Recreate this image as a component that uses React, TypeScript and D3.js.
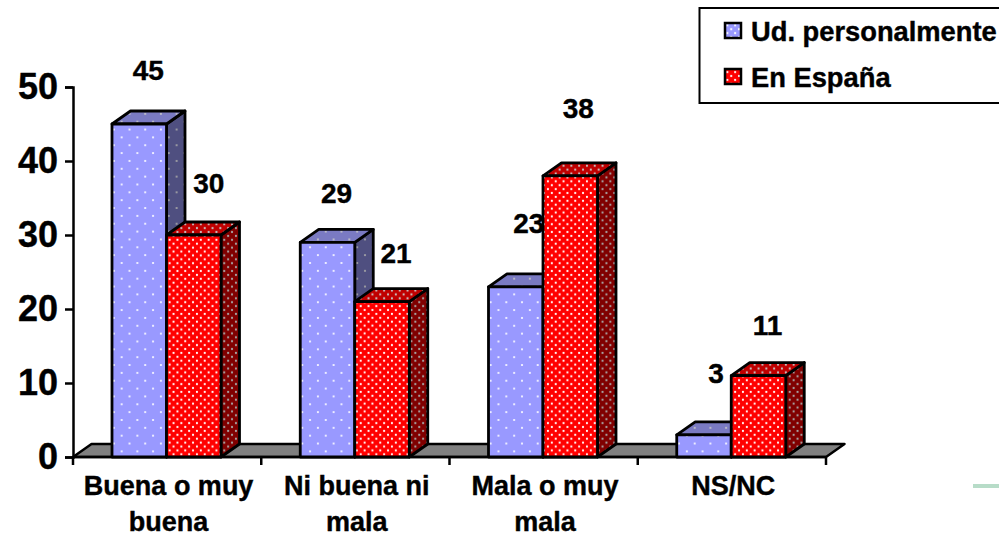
import React, { useEffect, useRef } from "react";
import * as d3 from "d3";

const categories = [["Buena o muy", "buena"], ["Ni buena ni", "mala"], ["Mala o muy", "mala"], ["NS/NC"]];
const seriesNames = ["Ud. personalmente", "En España"];
const personal = [45, 29, 23, 3];
const espana = [30, 21, 38, 11];
const yTicks = [0, 10, 20, 30, 40, 50];
// hand nudges for the data labels, they sit off the bars in the original
const labelNudgeX = [[9, 15], [9, 14], [13, 8], [12, 9]];
const labelNudgeY = [[44, 42], [39, 39], [54, 58], [52, 41]];

const FONT = "'Liberation Sans', Arial, sans-serif";
const DX = 18.5;
const DY = 13;
const colors = [
  { front: "#9999ff", side: "#4f4f80", top: "#7a7ac2", period: 15.7 },
  { front: "#ff0000", side: "#800000", top: "#c00000", period: 7.8 },
];

export default function App() {
  const ref = useRef<SVGSVGElement>(null);

  useEffect(() => {
    const svg = d3.select(ref.current);
    svg.selectAll("*").remove();

    const y = d3.scaleLinear().domain([0, 50]).range([457, 87]);
    const x = d3.scaleBand().domain(d3.range(4).map(String)).range([73, 826]);
    const barW = 54.5;
    const barStart = (i: number, s: number) => x(String(i))! + 39 + s * barW;

    // the original text is a bit heavier than plain bold
    const heavy = (sel: any, size: number) =>
      sel
        .attr("font-family", FONT)
        .attr("font-weight", "bold")
        .attr("font-size", size)
        .attr("fill", "#000")
        .attr("stroke", "#000")
        .attr("stroke-width", 0.4);

    // dotted fills
    const defs = svg.append("defs");
    const addPattern = (id: string, fill: string, dot: string, period: number) => {
      const p = defs
        .append("pattern")
        .attr("id", id)
        .attr("width", period)
        .attr("height", period)
        .attr("patternUnits", "userSpaceOnUse");
      p.append("rect").attr("width", period).attr("height", period).attr("fill", fill);
      p.append("circle").attr("cx", period / 4).attr("cy", period / 4).attr("r", 1.1).attr("fill", dot);
      p.append("circle").attr("cx", (3 * period) / 4).attr("cy", (3 * period) / 4).attr("r", 1.1).attr("fill", dot);
    };
    colors.forEach((c, s) => {
      addPattern(`front${s}`, c.front, "#ffffff", c.period);
      addPattern(`side${s}`, c.side, "#a8a8a8", c.period);
      addPattern(`top${s}`, c.top, "#c8c8c8", c.period);
      addPattern(`swatch${s}`, c.front, "#ffffff", 7.8);
    });

    // floor
    svg
      .append("path")
      .attr("d", `M73,457L${73 + DX},${457 - DY}H${826 + DX}L826,457Z`)
      .attr("fill", "#808080")
      .attr("stroke", "#000")
      .attr("stroke-width", 2.5)
      .attr("stroke-linejoin", "round");

    // y axis
    const yAxis = svg
      .append("g")
      .attr("transform", "translate(73,0)")
      .call(d3.axisLeft(y).tickValues(yTicks).tickSize(8).tickPadding(7));
    yAxis.selectAll("path,line").attr("stroke", "#000").attr("stroke-width", 2.5);
    heavy(yAxis.selectAll("text"), 36);

    // x axis ticks
    const xAxis = svg.append("g").attr("transform", "translate(0,457)");
    xAxis.append("line").attr("x1", 73).attr("x2", 826).attr("stroke", "#000").attr("stroke-width", 2.5);
    xAxis
      .selectAll("line.tick")
      .data(d3.range(5))
      .join("line")
      .attr("class", "tick")
      .attr("x1", (i) => 73 + i * x.step())
      .attr("x2", (i) => 73 + i * x.step())
      .attr("y1", 0)
      .attr("y2", 8)
      .attr("stroke", "#000")
      .attr("stroke-width", 2.5);

    // category labels
    categories.forEach((lines, i) => {
      const t = svg.append("text").attr("text-anchor", "middle").call(heavy, 27);
      lines.forEach((line, k) => {
        t.append("tspan")
          .attr("x", x(String(i))! + x.bandwidth() / 2 + 1.5)
          .attr("y", 495 + k * 36)
          .text(line);
      });
    });

    // bars, back to front
    const stroke = (sel: any) =>
      sel.attr("stroke", "#000").attr("stroke-width", 2.8).attr("stroke-linejoin", "round");
    categories.forEach((_, i) => {
      [personal, espana].forEach((values, s) => {
        const x0 = barStart(i, s);
        const x1 = x0 + barW;
        const top = y(values[i]);
        const base = y(0);
        const g = svg.append("g");
        g.append("path")
          .attr("d", `M${x1},${top}L${x1 + DX},${top - DY}V${base - DY}L${x1},${base}Z`)
          .attr("fill", `url(#side${s})`)
          .call(stroke);
        g.append("path")
          .attr("d", `M${x0},${top}L${x0 + DX},${top - DY}H${x1 + DX}L${x1},${top}Z`)
          .attr("fill", `url(#top${s})`)
          .call(stroke);
        g.append("rect")
          .attr("x", x0)
          .attr("y", top)
          .attr("width", barW)
          .attr("height", base - top)
          .attr("fill", `url(#front${s})`)
          .call(stroke);
      });
    });

    // data labels
    categories.forEach((_, i) => {
      [personal, espana].forEach((values, s) => {
        svg
          .append("text")
          .attr("x", barStart(i, s) + barW / 2 + labelNudgeX[i][s])
          .attr("y", y(values[i]) - labelNudgeY[i][s])
          .attr("text-anchor", "middle")
          .call(heavy, 28)
          .text(values[i]);
      });
    });

    // legend
    svg
      .append("rect")
      .attr("x", 699.5)
      .attr("y", 8)
      .attr("width", 320)
      .attr("height", 95)
      .attr("fill", "#fff")
      .attr("stroke", "#000")
      .attr("stroke-width", 2);
    seriesNames.forEach((name, s) => {
      const cy = 30.5 + s * 46;
      svg
        .append("rect")
        .attr("x", 725)
        .attr("y", cy - 7.5)
        .attr("width", 16)
        .attr("height", 15)
        .attr("fill", `url(#swatch${s})`)
        .attr("stroke", "#000")
        .attr("stroke-width", 2.5);
      svg
        .append("text")
        .attr("x", 751)
        .attr("y", cy + 10.5)
        .call(heavy, 27.3)
        .text(name);
    });

    // stray green rule at the bottom right of the slide
    svg.append("rect").attr("x", 973).attr("y", 484).attr("width", 26).attr("height", 4).attr("fill", "#b7dcc8");
  }, []);

  return (
    <svg
      ref={ref}
      width={999}
      height={537}
      style={{ position: "absolute", left: 0, top: 0, background: "#fff", display: "block" }}
    />
  );
}
